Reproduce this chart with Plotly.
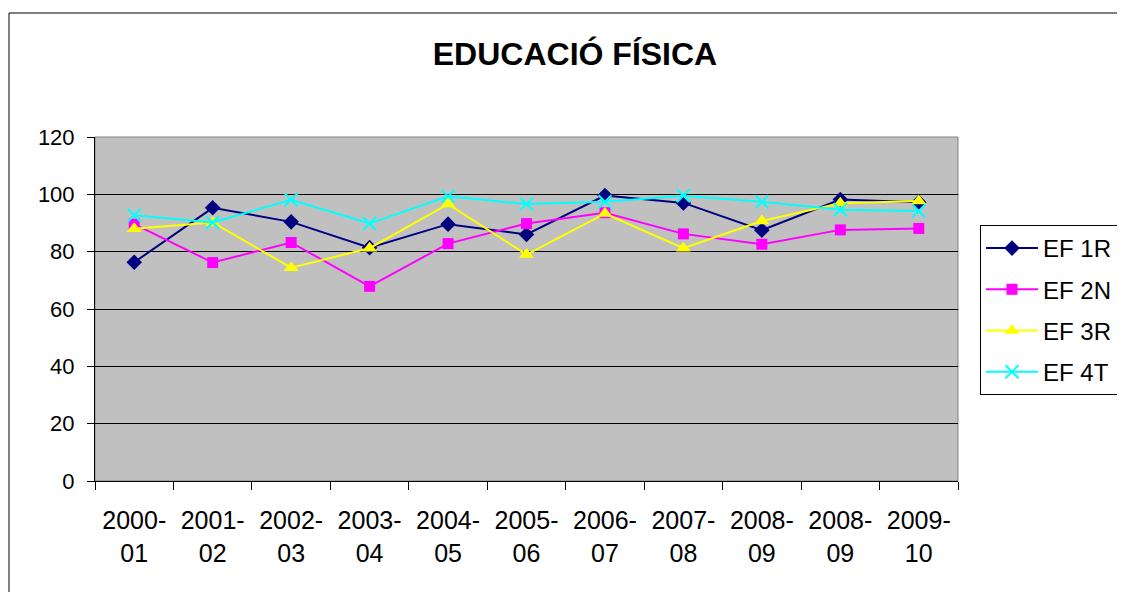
import plotly.graph_objects as go

categories = ["2000-<br>01", "2001-<br>02", "2002-<br>03", "2003-<br>04", "2004-<br>05",
              "2005-<br>06", "2006-<br>07", "2007-<br>08", "2008-<br>09", "2008-<br>09", "2009-<br>10"]
ef_1r = [76.3, 95.3, 90.4, 81.4, 89.6, 86.0, 99.6, 97.0, 87.5, 98.2, 97.2]
ef_2n = [89.6, 76.2, 83.2, 67.9, 82.8, 89.8, 93.6, 86.2, 82.6, 87.6, 88.1]
ef_3r = [88.0, 90.2, 74.4, 81.2, 96.6, 79.0, 93.3, 81.2, 90.7, 96.9, 97.7]
ef_4t = [92.7, 90.2, 98.1, 89.8, 99.3, 96.6, 97.4, 99.5, 97.4, 94.6, 94.2]
y_ticks = [0, 20, 40, 60, 80, 100, 120]

xs = list(range(len(categories)))
FONT = "Liberation Sans, Arial, sans-serif"

series = [
    ("EF 1R", ef_1r, "#000080", dict(symbol="diamond", size=12)),
    ("EF 2N", ef_2n, "#FF00FF", dict(symbol="square", size=11)),
    ("EF 3R", ef_3r, "#FFFF00", dict(symbol="triangle-up", size=13)),
    ("EF 4T", ef_4t, "#00FFFF", dict(symbol="x-thin-open", size=13, line=dict(width=2, color="#00FFFF"))),
]

fig = go.Figure()
for i, (name, vals, col, mk) in enumerate(series):
    m = dict(color=col)
    m.update(mk)
    fig.add_trace(go.Scatter(x=xs, y=vals, name=name, mode="lines+markers",
                             line=dict(color=col, width=2), marker=m,
                             legendgroup=f"g{i}"))

# invisible trace for the tick-mark axis
fig.add_trace(go.Scatter(x=[0], y=[0], xaxis="x2", showlegend=False,
                         mode="markers", marker=dict(opacity=0), hoverinfo="skip"))

# page body has an 8px margin; figure is offset by it
OFF = 8
W, H = 1125 - OFF, 592 - OFF
L, T = 95 - OFF, 137 - OFF
pw, ph = 863, 344
R = W - L - pw
B = H - T - ph

fig.update_layout(
    width=W, height=H,
    margin=dict(l=L, r=R, t=T, b=B, pad=0, autoexpand=False),
    paper_bgcolor="white", plot_bgcolor="#C0C0C0",
    font=dict(family=FONT, size=22, color="black"),
    title=dict(text="<b>EDUCACIÓ FÍSICA</b>", font=dict(size=32, family=FONT, color="black"),
               xref="paper", x=(575 - 95) / pw, xanchor="center",
               yref="container", y=1 - (54 - OFF) / H, yanchor="middle"),
    xaxis=dict(range=[-0.5, len(categories) - 0.5], tickvals=xs, ticktext=categories,
               ticks="", showgrid=False, zeroline=False, showline=True, linecolor="black",
               linewidth=1, tickfont=dict(size=25), ticklabelstandoff=17),
    xaxis2=dict(overlaying="x", anchor="y", side="bottom",
                range=[-0.5, len(categories) - 0.5],
                tickvals=[i - 0.5 for i in range(len(categories) + 1)],
                ticks="outside", ticklen=8, tickcolor="black", tickwidth=1,
                showticklabels=False, showgrid=False, zeroline=False, showline=False),
    yaxis=dict(range=[0, 120], tickvals=y_ticks, ticks="outside", ticklen=7,
               tickcolor="black", showgrid=True, gridcolor="black", gridwidth=1,
               zeroline=False, showline=True, linecolor="black", linewidth=1,
               tickfont=dict(size=22), ticklabelstandoff=8),
    legend=dict(x=(980 - 95) / pw, xanchor="left", y=(481 - 225) / ph, yanchor="top",
                bordercolor="black", borderwidth=1, bgcolor="white",
                font=dict(size=24, family=FONT), tracegroupgap=7,
                traceorder="grouped", itemwidth=52),
    showlegend=True,
    shapes=[
        dict(type="rect", xref="paper", yref="paper", x0=0, x1=1, y0=0, y1=1,
             line=dict(color="#808080", width=1), fillcolor="rgba(0,0,0,0)", layer="below"),
        dict(type="rect", xref="paper", yref="paper",
             x0=(9 - 95) / pw, x1=(1150 - 95) / pw,
             y0=(481 - 620) / ph, y1=(481 - 13) / ph,
             line=dict(color="black", width=1), fillcolor="rgba(0,0,0,0)"),
    ],
)

fig.write_html("out.html")
